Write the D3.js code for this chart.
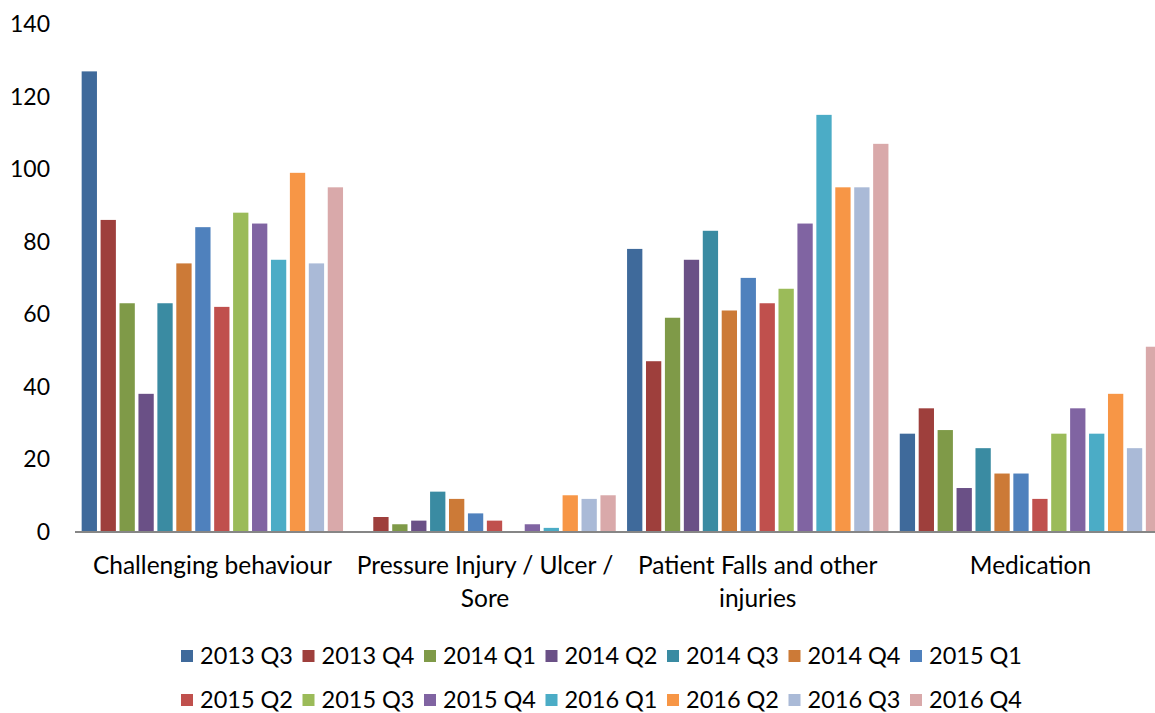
<!DOCTYPE html>
<html lang="en">
<head>
<meta charset="utf-8">
<style>
  body { margin: 0; background: #fff; }
  svg { font-family: 'Lato', 'Open Sans', sans-serif; }
  .tick-label { font-size: 23px; fill: #000; }
  .cat-label { font-size: 24.5px; fill: #000; }
  .legend text { font-size: 23.5px; fill: #000; }
</style>
</head>
<body>
<svg width="1155" height="713"></svg>
<script src="https://cdn.jsdelivr.net/npm/d3@7"></script>
<script>
var categories = [
  ["Challenging behaviour"],
  ["Pressure Injury / Ulcer /", "Sore"],
  ["Patient Falls and other", "injuries"],
  ["Medication"]
];
var series = ["2013 Q3", "2013 Q4", "2014 Q1", "2014 Q2", "2014 Q3", "2014 Q4", "2015 Q1",
              "2015 Q2", "2015 Q3", "2015 Q4", "2016 Q1", "2016 Q2", "2016 Q3", "2016 Q4"];
var colors = ["#3f6a9b", "#9e3f3c", "#7f9a48", "#6a5086", "#3a8ba2", "#cc7a37", "#4f81bd",
              "#c0504d", "#9bbb59", "#8064a2", "#4bacc6", "#f79646", "#aabad7", "#d9a9aa"];

// one array per category, in series order
var challenging = [127, 86, 63, 38, 63, 74, 84, 62, 88, 85, 75, 99, 74, 95];
var pressure    = [0, 4, 2, 3, 11, 9, 5, 3, 0, 2, 1, 10, 9, 10];
var falls       = [78, 47, 59, 75, 83, 61, 70, 63, 67, 85, 115, 95, 95, 107];
var medication  = [27, 34, 28, 12, 23, 16, 16, 9, 27, 34, 27, 38, 23, 51];
var values = [challenging, pressure, falls, medication];

var yTicks = [0, 20, 40, 60, 80, 100, 120, 140];

var svg = d3.select("svg");

var x0 = d3.scaleBand()
    .domain(d3.range(categories.length))
    .range([76, 76 + 4 * 272.7]);

var x1 = d3.scaleBand()
    .domain(series)
    .range([0, x0.bandwidth()])
    .paddingInner(0.192)
    .paddingOuter(0.299);

var y = d3.scaleLinear()
    .domain([0, 140])
    .range([531.5, 531.5 - 140 * 3.623]);

// bars
var groups = svg.append("g").selectAll("g")
    .data(values)
    .enter().append("g")
      .attr("transform", (d, i) => "translate(" + x0(i) + ",0)");

groups.selectAll("rect")
    .data(d => d.map((v, j) => ({ s: series[j], v: v, c: colors[j] })))
    .enter().append("rect")
      .attr("x", d => x1(d.s))
      .attr("width", x1.bandwidth())
      .attr("y", d => y(d.v))
      .attr("height", d => y(0) - y(d.v))
      .attr("fill", d => d.c);

// x axis line
svg.append("line")
    .attr("x1", 75).attr("x2", 1155)
    .attr("y1", y(0) + 0.5).attr("y2", y(0) + 0.5)
    .attr("stroke", "#868686")
    .attr("stroke-width", 2);

// y tick labels
svg.append("g").selectAll("text")
    .data(yTicks)
    .enter().append("text")
      .attr("class", "tick-label")
      .attr("x", 50)
      .attr("y", d => y(d))
      .attr("dy", "0.35em")
      .attr("text-anchor", "end")
      .text(d => d);

// category labels
var cat = svg.append("g").selectAll("text")
    .data(categories)
    .enter().append("text")
      .attr("class", "cat-label")
      .attr("text-anchor", "middle")
      .attr("x", (d, i) => x0(i) + x0.bandwidth() / 2)
      .attr("y", 574);
cat.selectAll("tspan")
    .data(d => d)
    .enter().append("tspan")
      .attr("x", function() { return this.parentNode.getAttribute("x"); })
      .attr("dy", (d, i) => i ? 33 : 0)
      .text(d => d);

// legend, two rows of seven
var legend = svg.append("g").attr("class", "legend")
  .selectAll("g")
  .data(series)
  .enter().append("g")
    .attr("transform", (d, i) => "translate(" + (181 + (i % 7) * 121.5) + "," + (i < 7 ? 656 : 700) + ")");

legend.append("rect")
    .attr("x", 0).attr("y", -6)
    .attr("width", 12).attr("height", 12)
    .attr("fill", (d, i) => colors[i]);

legend.append("text")
    .attr("x", 19)
    .attr("y", 0)
    .attr("dy", "0.35em")
    .text(d => d);
</script>
</body>
</html>
